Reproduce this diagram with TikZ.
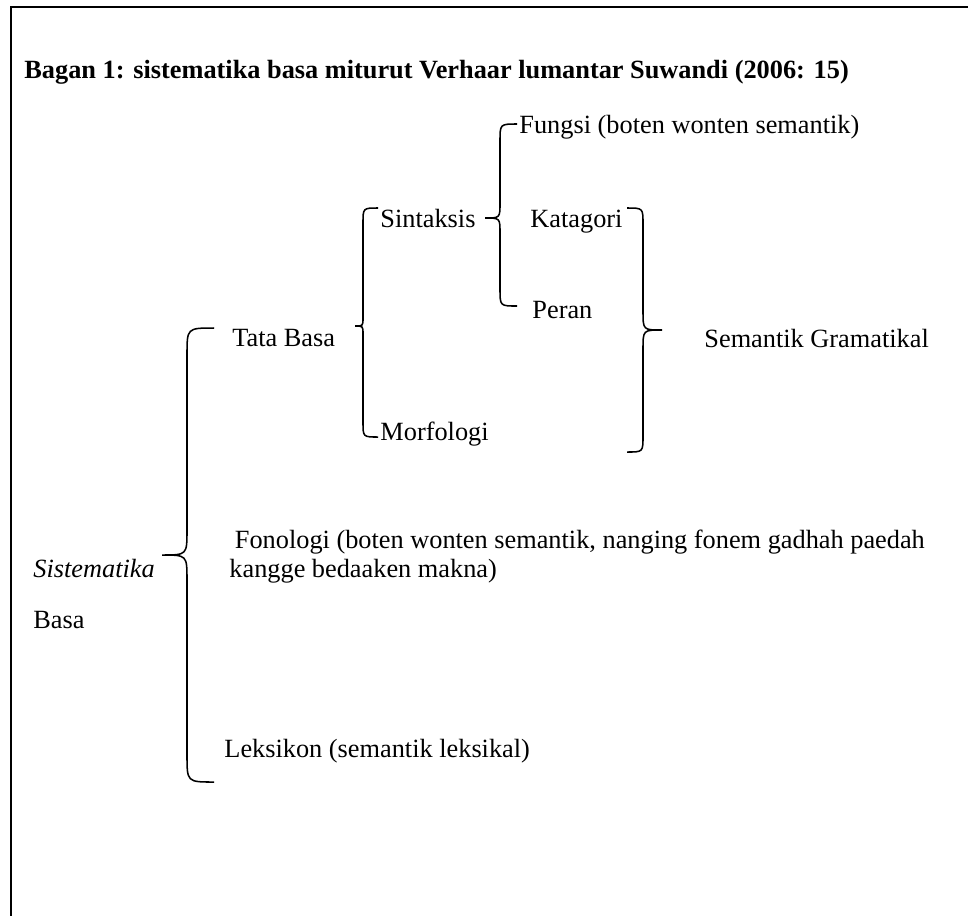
\documentclass[tikz,border=0pt]{standalone}
\usepackage{fontspec}
\setmainfont{Liberation Serif}
\usepackage{tikz}

\newcommand{\kurung}[6]{%
  \draw[line width=0.7pt] (#1,#4) .. controls (#2,#4) .. ({#2},{#4+abs(#1-#2)})
    -- ({#2},{#5-abs(#3-#2)}) .. controls (#2,#5) .. (#3,#5)
    .. controls (#2,#5) .. ({#2},{#5+abs(#3-#2)})
    -- ({#2},{#6-abs(#1-#2)}) .. controls (#2,#6) .. (#1,#6);}

\begin{document}
\begin{tikzpicture}[x=0.456pt, y=-0.456pt,
  every node/.style={inner sep=0pt, anchor=base west, font=\fontsize{12}{13}\selectfont}]
\useasboundingbox (0,0) rectangle (968,915);
\draw[line width=1.2pt] (11,925) -- (11,7) -- (975,7);

\node (judul) at (24,78) {\textbf{Bagan 1: sistematika basa miturut Verhaar lumantar Suwandi (2006: 15)}};

\node (fungsi) at (519,133) {Fungsi (boten wonten semantik)};
\node (sintaksis) at (380,227) {Sintaksis};
\node (katagori) at (530,227) {Katagori};
\node (peran) at (532,318) {Peran};
\node (tatabasa) at (232,346) {Tata Basa};
\node (morfologi) at (380,440) {Morfologi};
\node (semgram) at (704,347) {Semantik Gramatikal};

\node (sistematika) at (33,577) {\itshape Sistematika};
\node (basa) at (33,628) {Basa};
\node[align=left] (fonologi) at (229,577) {\hspace{2.5pt}Fonologi (boten wonten semantik, nanging fonem gadhah paedah\\kangge bedaaken makna)};
\node (leksikon) at (224,757) {Leksikon (semantik leksikal)};

\kurung{517}{500}{485}{124}{218}{306}
\kurung{378}{363}{355}{208}{326}{437}
\kurung{627}{643}{662}{208}{330}{452}
\kurung{214}{187}{162}{328}{555}{782}
\end{tikzpicture}
\end{document}
